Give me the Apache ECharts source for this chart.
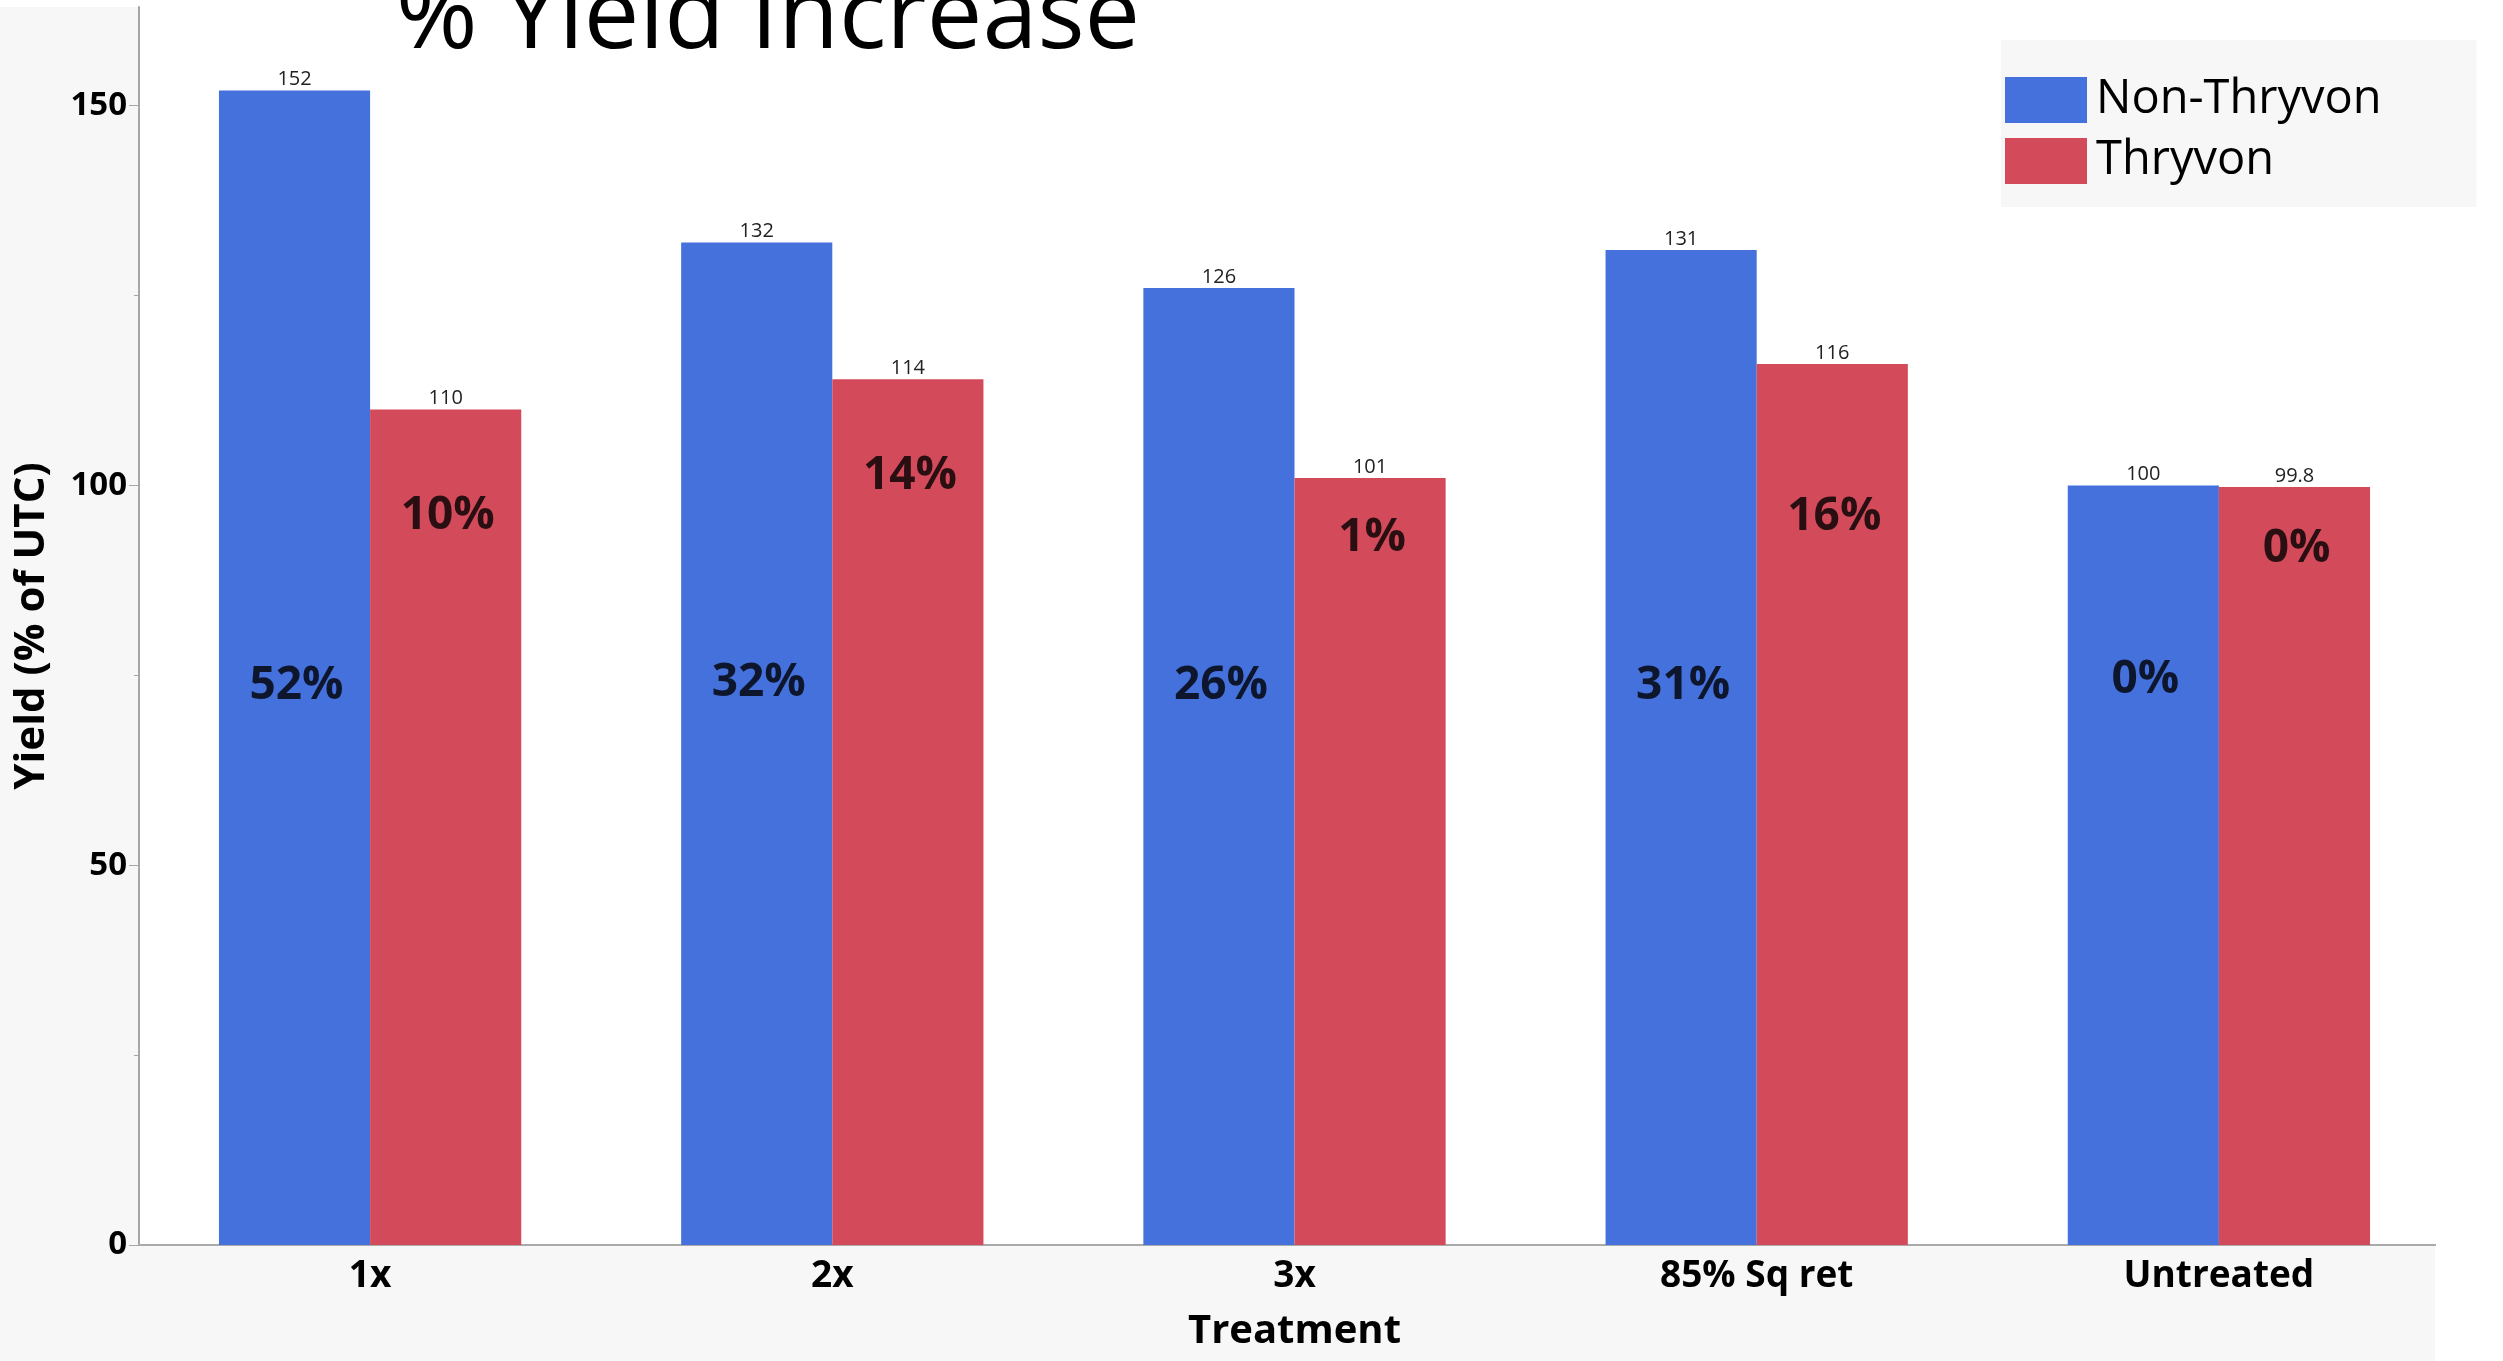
<!DOCTYPE html>
<html>
<head>
<meta charset="utf-8">
<script src="https://cdn.jsdelivr.net/npm/echarts@6/dist/echarts.min.js"></script>
<style>
  html, body { margin: 0; padding: 0; background: #ffffff; }
  #chart { width: 2503px; height: 1361px; }
</style>
</head>
<body>
<div id="chart"></div>
<script>
// ---- data ----
const categories = ['1x', '2x', '3x', '85% Sq ret', 'Untreated'];
const nonThryvon = [152, 132, 126, 131, 100];
const thryvon = [110, 114, 101, 116, 99.8];
const nonThryvonIncrease = ['52%', '32%', '26%', '31%', '0%'];
const thryvonIncrease = ['10%', '14%', '1%', '16%', '0%'];
// height (in axis units) at which each % annotation sits in the picture
const nonThryvonNoteY = [73.6, 74.0, 73.6, 73.6, 74.4];
const thryvonNoteY = [96.0, 101.3, 93.1, 95.9, 91.6];
const yMajorTicks = [0, 50, 100, 150];
const yMinorTicks = [25, 75, 125];
const yMax = 163;

const BLUE = '#4471DC';
const RED = '#D34A5A';
const FONT = '"Open Sans", "Noto Sans", sans-serif';

const chart = echarts.init(document.getElementById('chart'), null, { renderer: 'canvas' });

const halfBar = 75.6;
const titleSize = 99;

const option = {
  animation: false,
  backgroundColor: '#ffffff',
  textStyle: { fontFamily: FONT },
  graphic: [
    {
      type: 'rect', z: -10, silent: true,
      shape: { x: 0, y: 7, width: 2435, height: 1354 },
      style: { fill: '#f7f7f7' }
    },
    {
      // the reference's x axis line stops at the edge of its grey frame
      type: 'rect', z: 100, silent: true,
      shape: { x: 2436, y: 1240, width: 40, height: 10 },
      style: { fill: '#ffffff' }
    },
    {
      type: 'text', z: 10, silent: true,
      x: 768, y: 48 - 0.285 * titleSize,
      style: {
        text: '% Yield Increase',
        font: 'normal ' + titleSize + 'px ' + FONT,
        fill: '#000000',
        align: 'center',
        verticalAlign: 'middle'
      }
    }
  ],
  legend: {
    data: ['Non-Thryvon', 'Thryvon'],
    orient: 'vertical',
    left: 2001,
    top: 40,
    backgroundColor: '#f7f7f7',
    padding: [33, 95, 19, 4],
    itemWidth: 82,
    itemHeight: 46,
    itemGap: 7,
    icon: 'rect',
    selectedMode: false,
    textStyle: { fontFamily: FONT, fontSize: 47, color: '#000000', lineHeight: 46, padding: [8, 0, 0, 4] }
  },
  grid: {
    left: 139, right: 53, top: 7, bottom: 116,
    show: true, backgroundColor: '#ffffff', borderWidth: 0,
    containLabel: false
  },
  xAxis: {
    type: 'category',
    data: categories,
    name: 'Treatment',
    nameLocation: 'middle',
    nameGap: 67,
    nameTextStyle: { fontFamily: FONT, fontSize: 40, fontWeight: 'bold', color: '#000000' },
    axisLine: { show: true, lineStyle: { color: '#aaaaaa', width: 2 } },
    axisTick: { show: false },
    axisLabel: { fontFamily: FONT, fontSize: 37, fontWeight: 'bold', color: '#000000', margin: 13 },
    splitLine: { show: false }
  },
  yAxis: [
    {
      type: 'value',
      min: 0, max: yMax, interval: 50,
      name: 'Yield (% of UTC)',
      nameLocation: 'middle',
      nameGap: 86,
      nameTextStyle: { fontFamily: FONT, fontSize: 42, fontWeight: 'bold', color: '#000000' },
      axisLine: { show: true, lineStyle: { color: '#a6a6a6', width: 2 } },
      axisTick: { show: true, length: 10, customValues: yMajorTicks, lineStyle: { color: '#a6a6a6', width: 1 } },
      axisLabel: { customValues: yMajorTicks, fontFamily: FONT, fontSize: 33, fontWeight: 'bold', color: '#000000', margin: 12 },
      splitLine: { show: false }
    },
    {
      type: 'value',
      min: 0, max: yMax, interval: 50,
      position: 'left',
      axisLine: { show: false },
      axisTick: { show: true, length: 5, customValues: yMinorTicks, lineStyle: { color: '#a6a6a6', width: 1 } },
      axisLabel: { show: false },
      splitLine: { show: false }
    }
  ],
  series: [
    {
      name: 'Non-Thryvon',
      type: 'bar',
      data: nonThryvon,
      barGap: '0%',
      barCategoryGap: '34.6%',
      itemStyle: { color: BLUE },
      label: { show: true, position: 'top', distance: 1, fontFamily: FONT, fontSize: 20, color: '#222222' },
      emphasis: { disabled: true }
    },
    {
      name: 'Thryvon',
      type: 'bar',
      data: thryvon,
      barGap: '0%',
      barCategoryGap: '34.6%',
      itemStyle: { color: RED },
      label: { show: true, position: 'top', distance: 1, fontFamily: FONT, fontSize: 20, color: '#222222' },
      emphasis: { disabled: true }
    },
    {
      name: 'nonThryvonNote',
      type: 'scatter',
      data: nonThryvonNoteY.map((v, i) => [i, v]),
      symbolSize: 1,
      itemStyle: { color: 'rgba(0,0,0,0)' },
      silent: true,
      z: 5,
      label: {
        show: true, position: 'inside', offset: [-halfBar + 2, 0],
        formatter: p => nonThryvonIncrease[p.dataIndex],
        fontFamily: FONT, fontSize: 46, fontWeight: 'bold', color: '#000000'
      },
      emphasis: { disabled: true }
    },
    {
      name: 'thryvonNote',
      type: 'scatter',
      data: thryvonNoteY.map((v, i) => [i, v]),
      symbolSize: 1,
      itemStyle: { color: 'rgba(0,0,0,0)' },
      silent: true,
      z: 5,
      label: {
        show: true, position: 'inside', offset: [halfBar + 2, 0],
        formatter: p => thryvonIncrease[p.dataIndex],
        fontFamily: FONT, fontSize: 46, fontWeight: 'bold', color: '#000000'
      },
      emphasis: { disabled: true }
    }
  ]
};

chart.setOption(option);
</script>
</body>
</html>
